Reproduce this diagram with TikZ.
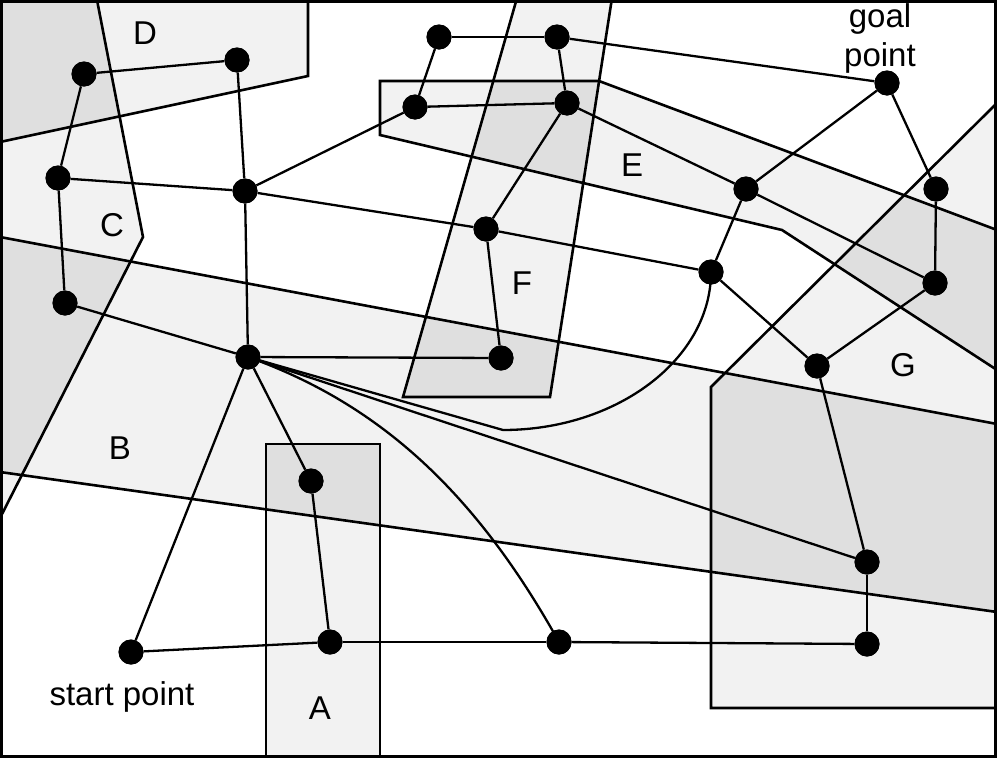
\documentclass[tikz,border=0pt]{standalone}
\usepackage{fontspec}
\setmainfont{Liberation Sans}
\definecolor{lite}{RGB}{242,242,242}
\definecolor{dark}{RGB}{223,223,223}
\begin{document}
\begin{tikzpicture}[x=1pt,y=-1pt,
  dot/.style={circle,fill=black,minimum size=25pt,inner sep=0pt},
  edge/.style={line width=2.3pt},
  outline/.style={line width=2.6pt,line join=miter},
  lbl/.style={font=\fontsize{33pt}{39pt}\selectfont,inner sep=0pt}]
\useasboundingbox (0,0) rectangle (997,758);
\def\pD{(0,0)--(308,0)--(308,76)--(0,142)--cycle}
\def\pC{(0,0)--(97,0)--(143,237)--(0,518)--cycle}
\def\pB{(0,237)--(997,424)--(997,612)--(0,472)--cycle}
\def\pA{(266,444)--(380,444)--(380,760)--(266,760)--cycle}
\def\pE{(380,81)--(599,81)--(997,230)--(997,370)--(782,230)--(380,135)--cycle}
\def\pF{(517,-2)--(612,-2)--(550,397)--(403,397)--cycle}
\def\pG{(711,708)--(711,387)--(997,103)--(997,708)--cycle}
\begin{scope}
  \clip (1.5,1.5) rectangle (995.5,756.5);
  \fill[lite] \pD;
  \fill[lite] \pC;
  \fill[lite] \pB;
  \fill[lite] \pA;
  \fill[lite] \pE;
  \fill[lite] \pF;
  \fill[lite] \pG;
  \begin{scope}\clip \pC; \fill[dark] \pD; \fill[dark] \pB; \end{scope}
  \begin{scope}\clip \pB; \fill[dark] \pA; \fill[dark] \pF; \fill[dark] \pG; \end{scope}
  \begin{scope}\clip \pE; \fill[dark] \pF; \fill[dark] \pG; \end{scope}
  \draw[outline] \pD;
  \draw[outline] \pC;
  \draw[outline] \pB;
  \draw[outline] \pA;
  \draw[outline] \pE;
  \draw[outline] \pF;
  \draw[outline] \pG;
\end{scope}
% nodes
\node[dot] (n1) at (84,74) {};
\node[dot] (n2) at (237,60) {};
\node[dot] (n3) at (58,178) {};
\node[dot] (n4) at (245,191) {};
\node[dot] (n5) at (65,303) {};
\node[dot] (n6) at (248,357) {};
\node[dot] (n7) at (311,481) {};
\node[dot] (n8) at (131,652) {};
\node[dot] (n9) at (330,642) {};
\node[dot] (n10) at (559,642) {};
\node[dot] (n11) at (867,644) {};
\node[dot] (n12) at (867,562) {};
\node[dot] (n13) at (817,366) {};
\node[dot] (n14) at (501,358) {};
\node[dot] (n15) at (486,229) {};
\node[dot] (n16) at (711,272) {};
\node[dot] (n17) at (439,37) {};
\node[dot] (n18) at (557,37) {};
\node[dot] (n19) at (415,107) {};
\node[dot] (n20) at (567,103) {};
\node[dot] (n21) at (746,189) {};
\node[dot] (n22) at (887,83) {};
\node[dot] (n23) at (936,189) {};
\node[dot] (n24) at (935,283) {};
\coordinate (k) at (503,430);
% edges
\begin{scope}[edge]
\draw (n1) -- (n2);
\draw (n1) -- (n3);
\draw (n2) -- (n4);
\draw (n3) -- (n4);
\draw (n3) -- (n5);
\draw (n5) -- (n6);
\draw (n4) -- (n6);
\draw (n4) -- (n19);
\draw (n4) -- (n15);
\draw (n15) -- (n16);
\draw (n15) -- (n20);
\draw (n15) -- (n14);
\draw (n6) -- (n14);
\draw (n17) -- (n18);
\draw (n17) -- (n19);
\draw (n19) -- (n20);
\draw (n18) -- (n20);
\draw (n18) -- (n22);
\draw (n20) -- (n21);
\draw (n21) -- (n24);
\draw (n21) -- (n22);
\draw (n21) -- (n16);
\draw (n22) -- (n23);
\draw (n23) -- (n24);
\draw (n24) -- (n13);
\draw (n16) -- (n13);
\draw (n13) -- (n12);
\draw (n12) -- (n11);
\draw (n9) -- (n10);
\draw (n10) -- (n11);
\draw (n8) -- (n9);
\draw (n8) -- (n6);
\draw (n6) -- (n7);
\draw (n7) -- (n9);
\draw (n6) -- (n12);
\draw (n6.center) .. controls (380,404) and (476,493) .. (n10.center);
\draw (n6.center) -- (k) .. controls (617,430) and (711,359) .. (n16.center);
\end{scope}
% redraw dots on top
\foreach \n in {n1,n2,n3,n4,n5,n6,n7,n8,n9,n10,n11,n12,n13,n14,n15,n16,n17,n18,n19,n20,n21,n22,n23,n24}
  \fill (\n) circle (12.5pt);
% labels
\node[lbl] (lD) at (145,33) {D};
\node[lbl] (lC) at (112,225) {C};
\node[lbl] (lB) at (120,448) {B};
\node[lbl] (lA) at (320,708) {A};
\node[lbl] (lE) at (632,165) {E};
\node[lbl] (lF) at (522,283) {F};
\node[lbl] (lG) at (903,365) {G};
\node[lbl,anchor=base] (ls) at (122,705) {start point};
\node[lbl,align=center,anchor=north] (lg) at (880,3.5) {goal\\point};
% frame
\draw[line width=3pt] (1.5,1.5) rectangle (995.5,756.5);
\end{tikzpicture}
\end{document}
